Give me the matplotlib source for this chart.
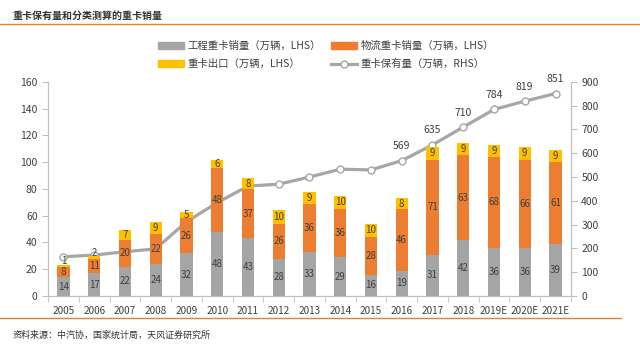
import matplotlib.pyplot as plt
from matplotlib.lines import Line2D
from matplotlib.patches import Patch
import numpy as np

plt.rcParams['font.family'] = ['Noto Sans CJK SC', 'DejaVu Sans']

years = ["2005", "2006", "2007", "2008", "2009", "2010", "2011", "2012", "2013",
         "2014", "2015", "2016", "2017", "2018", "2019E", "2020E", "2021E"]
engineering = [14, 17, 22, 24, 32, 48, 43, 28, 33, 29, 16, 19, 31, 42, 36, 36, 39]
logistics = [8, 11, 20, 22, 26, 48, 37, 26, 36, 36, 28, 46, 71, 63, 68, 66, 61]
export = [1, 2, 7, 9, 5, 6, 8, 10, 9, 10, 10, 8, 9, 9, 9, 9, 9]
stock = [165, 172, 186, 198, 312, 392, 462, 470, 500, 533, 530, 569, 635, 710, 784, 819, 851]
stock_labeled = ["2016", "2017", "2018", "2019E", "2020E", "2021E"]

GRAY = "#A5A5A5"
ORANGE = "#ED7D31"
YELLOW = "#FFC000"
LINE = "#A6A6A6"
TEXT = "#404040"
AXIS = "#BFBFBF"

fig = plt.figure(figsize=(6.4, 3.47), dpi=100)
ax = fig.add_axes([0.075, 0.147, 0.817, 0.617])
ax2 = ax.twinx()

x = np.arange(len(years))
w = 0.4
eng = np.array(engineering)
log = np.array(logistics)
exp = np.array(export)

ax.bar(x, eng, w, color=GRAY, zorder=2)
ax.bar(x, log, w, bottom=eng, color=ORANGE, zorder=2)
ax.bar(x, exp, w, bottom=eng + log, color=YELLOW, zorder=2)

# segment value labels (tiny export segments get nudged up a little)
for i in range(len(x)):
    ax.text(x[i], eng[i] / 2, str(eng[i]), ha="center", va="center", fontsize=7, color=TEXT, zorder=5)
    ax.text(x[i], eng[i] + log[i] / 2, str(log[i]), ha="center", va="center", fontsize=7, color=TEXT, zorder=5)
    nudge = 3.5 if exp[i] < 3 else 0
    ax.text(x[i], eng[i] + log[i] + exp[i] / 2 + nudge, str(exp[i]), ha="center", va="center",
            fontsize=7, color=TEXT, zorder=5)

ax.set_ylim(0, 160)
ax.set_yticks(range(0, 161, 20))
ax.set_xlim(-0.5, len(x) - 0.5)
ax.set_xticks(x)
ax.set_xticklabels(years)
ax.set_xticks(np.arange(-0.5, len(x), 1), minor=True)
ax.tick_params(axis="x", which="major", length=0, labelsize=7.2, colors=TEXT, pad=7)
ax.tick_params(axis="x", which="minor", length=4, color=AXIS)
ax.tick_params(axis="y", length=4, color=AXIS, labelsize=7.5, labelcolor=TEXT)

# holdings line on the right axis
ax2.plot(x, stock, color=LINE, lw=2.3, marker="o", ms=5, mfc="white", mec=LINE, mew=1, zorder=4)
for i, v in enumerate(stock):
    if years[i] in stock_labeled:
        ax2.text(x[i], v + 40, str(v), ha="center", va="bottom", fontsize=7.5, color=TEXT)
ax2.set_ylim(0, 900)
ax2.set_yticks(range(0, 901, 100))
ax2.tick_params(axis="y", length=4, color=AXIS, labelsize=7.5, labelcolor=TEXT)

ax.set_zorder(ax2.get_zorder() + 1)
ax.patch.set_visible(False)

for a in (ax, ax2):
    a.spines["top"].set_visible(False)
    for s in ("left", "right", "bottom"):
        a.spines[s].set_color(AXIS)

handles = [
    Patch(color=GRAY, label="工程重卡销量（万辆，LHS）"),
    Patch(color=YELLOW, label="重卡出口（万辆，LHS）"),
    Patch(color=ORANGE, label="物流重卡销量（万辆，LHS）"),
    Line2D([0], [0], color=LINE, lw=2.3, marker="o", ms=5, mfc="white", mec=LINE,
           label="重卡保有量（万辆，RHS）"),
]
fig.legend(handles=handles, ncol=2, loc="upper left", bbox_to_anchor=(0.247, 0.882),
           frameon=False, fontsize=7.5, handlelength=2.5, handleheight=0.6,
           handletextpad=0.3, columnspacing=1.0, labelspacing=0.75, borderpad=0,
           borderaxespad=0, labelcolor=TEXT)

# title and source
fig.text(0.02, 0.955, "重卡保有量和分类测算的重卡销量", fontsize=7.2, fontweight="bold", color="#333333", va="center")
fig.add_artist(Line2D([0, 1], [0.931, 0.931], color=ORANGE, lw=1))
fig.add_artist(Line2D([0, 0.97], [0.085, 0.085], color=ORANGE, lw=1))
fig.text(0.02, 0.035, "资料来源：中汽协，国家统计局，天风证券研究所", fontsize=6.5, color="#333333", va="center")

fig.savefig("out.png", dpi=100)
